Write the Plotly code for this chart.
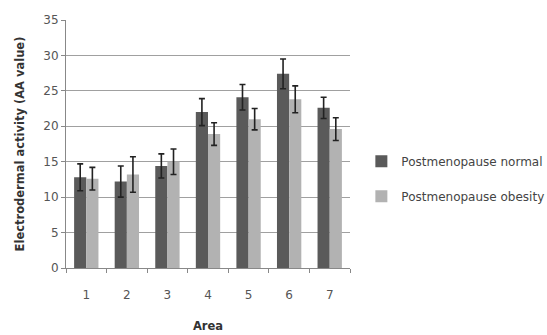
import plotly.graph_objects as go

areas = ["1", "2", "3", "4", "5", "6", "7"]
normal = [12.8, 12.2, 14.4, 22.0, 24.1, 27.4, 22.6]
normal_err = [1.9, 2.2, 1.7, 1.9, 1.8, 2.1, 1.5]
obesity = [12.6, 13.2, 15.0, 18.9, 21.0, 23.8, 19.6]
obesity_err = [1.6, 2.5, 1.8, 1.6, 1.5, 1.9, 1.6]
y_ticks = [0, 5, 10, 15, 20, 25, 30, 35]

font_family = "DejaVu Sans, Verdana, sans-serif"

fig = go.Figure()
fig.add_trace(go.Bar(
    x=areas, y=normal, name="Postmenopause normal",
    marker=dict(color="#5a5a5a", line=dict(width=0)),
    error_y=dict(type="data", array=normal_err, color="#222222", thickness=1.6, width=3),
    legendgroup="a",
))
fig.add_trace(go.Bar(
    x=areas, y=obesity, name="Postmenopause obesity",
    marker=dict(color="#b2b2b2", line=dict(width=0)),
    error_y=dict(type="data", array=obesity_err, color="#222222", thickness=1.6, width=3),
    legendgroup="b",
))

fig.update_layout(
    width=547, height=335,
    margin=dict(l=66, r=197, t=20, b=67, autoexpand=False),
    paper_bgcolor="white", plot_bgcolor="white",
    barmode="group", bargap=0.4, bargroupgap=0,
    font=dict(family=font_family, size=12, color="#555555"),
    showlegend=True,
    legend=dict(x=1.04, y=0.36, xanchor="left", yanchor="middle",
                font=dict(size=12, color="#444444"), tracegroupgap=16,
                itemwidth=30),
    xaxis=dict(
        type="category",
        title=dict(text="<b>Area</b>", font=dict(size=11.5, color="#333333"), standoff=20),
        showgrid=False, showline=True, linecolor="#888888", linewidth=1,
        ticks="outside", tickson="boundaries", ticklen=4, tickcolor="#888888",
        tickfont=dict(size=12, color="#555555"),
        ticklabelstandoff=16,
    ),
    yaxis=dict(
        title=dict(text="<b>Electrodermal activity (AA value)</b>", font=dict(size=11.5, color="#333333"), standoff=16),
        range=[0, 35], tickvals=y_ticks,
        showgrid=True, gridcolor="#a0a0a0", gridwidth=1,
        showline=True, linecolor="#888888", linewidth=1,
        ticks="outside", ticklen=4, tickcolor="#888888",
        tickfont=dict(size=12, color="#555555"),
        zeroline=False,
    ),
)

fig.write_html("out.html")
